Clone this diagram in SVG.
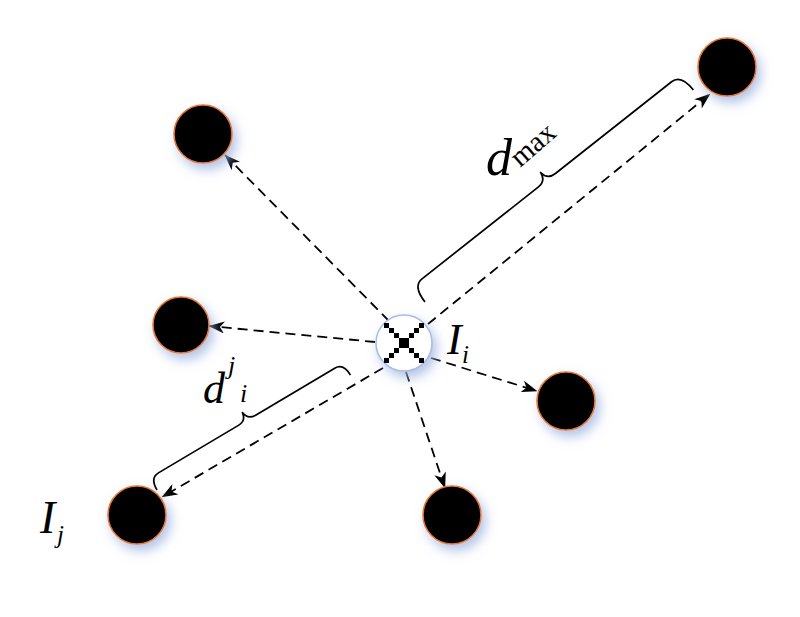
<svg xmlns="http://www.w3.org/2000/svg" width="800" height="617" viewBox="0 0 800 617">
<style>
.node{fill:#000;stroke:#e8782a;stroke-width:1.6;filter:url(#glow)}
.center{fill:#fff;stroke:#a9bde3;stroke-width:1.6;filter:url(#glow)}
.conn{fill:none;stroke:#000;stroke-width:1.8;stroke-dasharray:10 6;marker-end:url(#arr)}
.brace{fill:none;stroke:#000;stroke-width:1.7;stroke-linejoin:round}
.lbl{font-family:"Liberation Serif","Times New Roman",serif;fill:#000}
.it{font-style:italic}
</style>
<defs>
<filter id="glow" x="-50%" y="-50%" width="220%" height="220%">
<feDropShadow dx="4" dy="6" stdDeviation="6" flood-color="#9fb3e0" flood-opacity="0.8"/>
</filter>
<marker id="arr" viewBox="0 0 16 12" refX="15.5" refY="6" markerWidth="16" markerHeight="12" markerUnits="userSpaceOnUse" orient="auto">
<path d="M0,0 L16,6 L0,12 L4.5,6 z" fill="#000"/>
</marker>
</defs>
<rect width="800" height="617" fill="#fff"/>
<g id="connectors">
<line class="conn" x1="389" y1="321" x2="225" y2="155"/>
<line class="conn" x1="375" y1="342" x2="209" y2="326"/>
<line class="conn" x1="428" y1="324" x2="710" y2="94"/>
<line class="conn" x1="431" y1="358" x2="537" y2="391"/>
<line class="conn" x1="406" y1="372" x2="445" y2="488"/>
<line class="conn" x1="383" y1="368" x2="162" y2="497"/>
</g>
<g id="brace-dmax">
<path class="brace" transform="translate(425,302) rotate(-38.3)" d="M0,0 Q0,-20 12,-20 L160,-20 Q170,-20 171,-30 Q172,-20 182,-20 L330,-20 Q342,-20 342,0"/>
<text class="lbl it" x="486" y="175" font-size="52">d</text>
<text class="lbl" font-size="29" transform="translate(520,168) rotate(-41)">max</text>
</g>
<g id="brace-dij">
<path class="brace" transform="translate(157,490) rotate(-30.7)" d="M0,0 Q0,-14 10,-14 L103,-14 Q112,-14 113,-23 Q114,-14 123,-14 L215,-14 Q225,-14 225,0"/>
<text class="lbl it" x="203" y="403" font-size="44">d</text>
<text class="lbl it" x="228" y="374" font-size="26">j</text>
<text class="lbl it" x="240" y="402" font-size="26">i</text>
</g>
<g id="node-center">
<circle class="center" cx="404" cy="343" r="28"/>
<g fill="#000">
<rect x="384" y="323" width="5" height="5"/><rect x="389" y="328" width="5" height="5"/><rect x="394" y="333" width="5" height="5"/><rect x="399" y="338" width="5" height="5"/><rect x="404" y="343" width="5" height="5"/><rect x="409" y="348" width="5" height="5"/><rect x="414" y="353" width="5" height="5"/><rect x="419" y="358" width="5" height="5"/>
<rect x="419" y="323" width="5" height="5"/><rect x="414" y="328" width="5" height="5"/><rect x="409" y="333" width="5" height="5"/><rect x="404" y="338" width="5" height="5"/><rect x="399" y="343" width="5" height="5"/><rect x="394" y="348" width="5" height="5"/><rect x="389" y="353" width="5" height="5"/><rect x="384" y="358" width="5" height="5"/>
</g>
<text class="lbl it" x="447" y="354" font-size="44">I</text>
<text class="lbl it" x="462" y="363" font-size="25">i</text>
</g>
<g id="node-topleft"><circle class="node" cx="203" cy="134" r="29"/></g>
<g id="node-left"><circle class="node" cx="181" cy="325" r="28"/></g>
<g id="node-topright"><circle class="node" cx="727" cy="67" r="29"/></g>
<g id="node-right"><circle class="node" cx="566" cy="401" r="29"/></g>
<g id="node-bottom"><circle class="node" cx="452" cy="515" r="29"/></g>
<g id="node-bottomleft">
<circle class="node" cx="137" cy="515" r="29"/>
<text class="lbl it" x="40" y="533" font-size="46">I</text>
<text class="lbl it" x="57" y="543" font-size="25">j</text>
</g>
</svg>
